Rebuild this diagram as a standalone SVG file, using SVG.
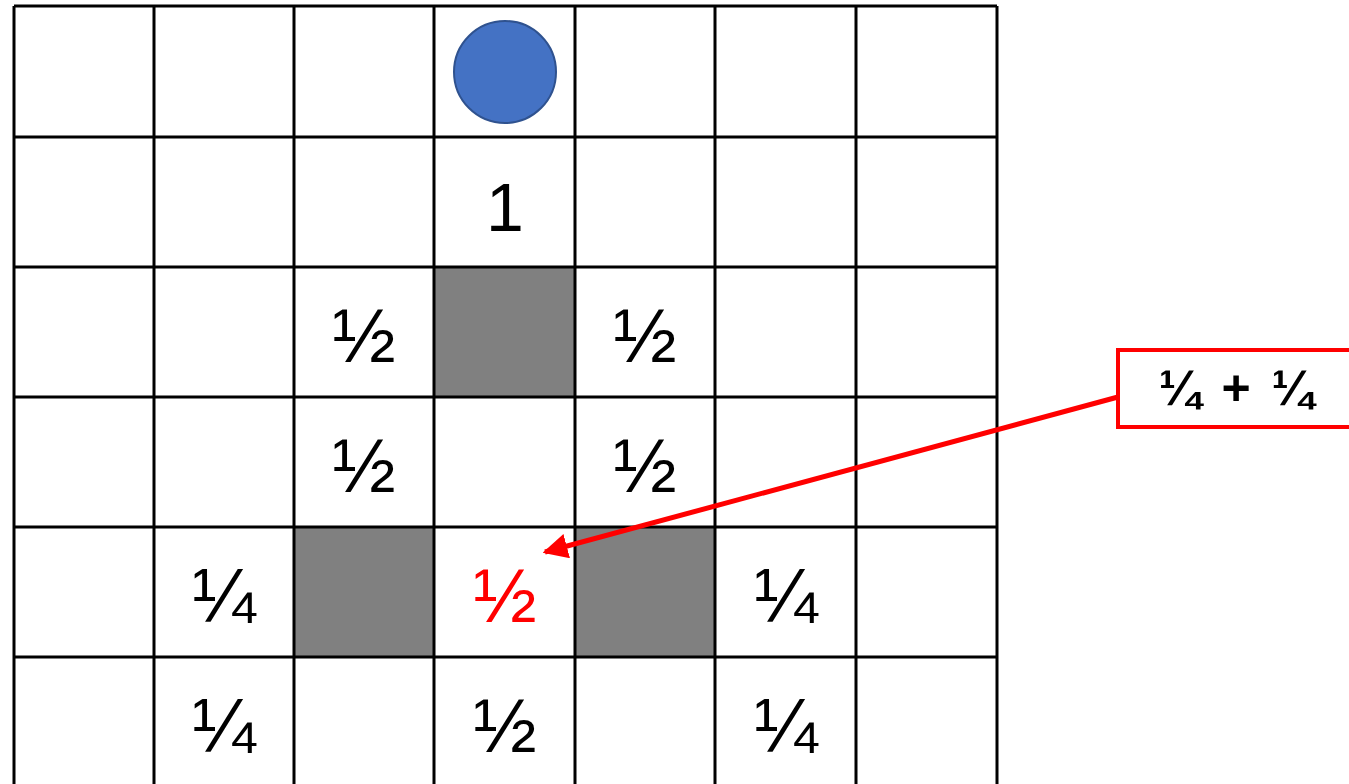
<svg xmlns="http://www.w3.org/2000/svg" width="1349" height="784" viewBox="0 0 1349 784">
<defs>
<style>
.grid{stroke:#000;stroke-width:3;fill:none}
.gray{fill:#808080}
.frac{font-family:"Liberation Sans",Arial,sans-serif;font-size:76px;text-anchor:middle;fill:#000}
.red{fill:#FF0000}
.one{font-family:"Liberation Sans",Arial,sans-serif;font-size:68px;text-anchor:middle;fill:#000}
.lbl{font-family:"Liberation Sans",Arial,sans-serif;font-size:50px;font-weight:bold;text-anchor:middle;fill:#000;word-spacing:7px}
</style>
<marker id="ah" viewBox="0 0 10 10" refX="9" refY="5" markerWidth="5" markerHeight="5" orient="auto" markerUnits="strokeWidth">
<path d="M0,0 L10,5 L0,10 z" fill="#FF0000"/>
</marker>
</defs>
<rect width="1349" height="784" fill="#fff"/>
<g id="shaded">
<rect class="gray" x="434" y="267" width="141" height="130"/>
<rect class="gray" x="294" y="527" width="140" height="130"/>
<rect class="gray" x="575" y="527" width="140" height="130"/>
</g>
<g id="grid">
<path class="grid" d="M14,6 V784 M154,6 V784 M294,6 V784 M434,6 V784 M575,6 V784 M715,6 V784 M856,6 V784 M997,6 V784"/>
<path class="grid" d="M14,6 H997 M14,137 H997 M14,267 H997 M14,397 H997 M14,527 H997 M14,657 H997"/>
</g>
<g id="ball">
<circle cx="505" cy="72" r="51" fill="#4472C4" stroke="#2F528F" stroke-width="2"/>
</g>
<g id="values">
<text class="one" x="505" y="231">1</text>
<text class="frac" x="364" y="362">½</text>
<text class="frac" x="645" y="362">½</text>
<text class="frac" x="364" y="492">½</text>
<text class="frac" x="645" y="492">½</text>
<text class="frac" x="224" y="622">¼</text>
<text class="frac red" x="505" y="622">½</text>
<text class="frac" x="786" y="622">¼</text>
<text class="frac" x="224" y="752">¼</text>
<text class="frac" x="505" y="752">½</text>
<text class="frac" x="786" y="752">¼</text>
</g>
<g id="callout">
<rect x="1118" y="350" width="240" height="77" fill="#fff" stroke="#FF0000" stroke-width="4"/>
<text class="lbl" x="1236" y="405">¼ + ¼</text>
</g>
<g id="connectors">
<line x1="1118" y1="397" x2="545" y2="552" stroke="#FF0000" stroke-width="5" marker-end="url(#ah)"/>
</g>
</svg>
